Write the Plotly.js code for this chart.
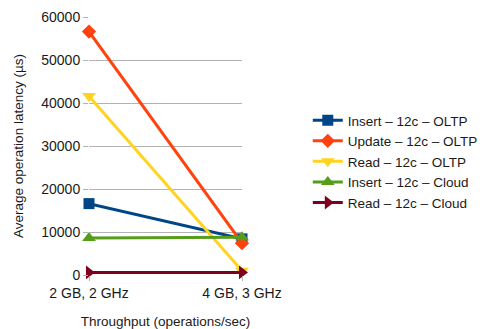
<!DOCTYPE html>
<html>
<head>
<meta charset="utf-8">
<script src="https://cdn.plot.ly/plotly-3.0.1.min.js"></script>
<style>html,body{margin:0;padding:0;background:#fff}#chart{width:487px;height:329px}</style>
</head>
<body>
<div id="chart"></div>
<script>
// Configurations on the x axis
const configs = ["2 GB, 2 GHz", "4 GB, 3 GHz"];

// Average latency per series (µs)
const insertOltp = [16600, 8400];
const updateOltp = [56600, 7400];
const readOltp = [41600, 1000];
const insertCloud = [8600, 8800];
const readCloud = [600, 600];

const seriesNames = [
  "Insert – 12c – OLTP",
  "Update – 12c – OLTP",
  "Read – 12c – OLTP",
  "Insert – 12c – Cloud",
  "Read – 12c – Cloud"
];
const seriesValues = [insertOltp, updateOltp, readOltp, insertCloud, readCloud];
const colors = ["#004586", "#ff420e", "#ffd320", "#579d1c", "#7e0021"];
const symbols = ["square", "diamond", "triangle-down", "triangle-up", "triangle-right"];
const sizes = [11, 11, 12, 12, 12];

const traces = seriesValues.map((vals, i) => ({
  type: "scatter",
  mode: "lines+markers",
  name: seriesNames[i],
  x: configs,
  y: vals,
  cliponaxis: false,
  line: {color: colors[i], width: 3},
  marker: {color: colors[i], symbol: symbols[i], size: sizes[i]}
}));

const layout = {
  width: 487,
  height: 329,
  margin: {l: 89, r: 245, t: 17, b: 54, autoexpand: false},
  paper_bgcolor: "#ffffff",
  plot_bgcolor: "#ffffff",
  font: {family: "Liberation Sans, Arial, sans-serif", size: 14, color: "#1a1a1a"},
  showlegend: true,
  legend: {
    x: 1.43, xanchor: "left",
    y: 0.44, yanchor: "middle",
    font: {size: 13.5, color: "#1a1a1a"},
    tracegroupgap: 0,
    itemwidth: 30,
    bgcolor: "rgba(0,0,0,0)"
  },
  xaxis: {
    type: "category",
    range: [0, 1],
    showgrid: true,
    gridcolor: "#b3b3b3",
    showline: false,
    zeroline: false,
    ticks: "outside",
    ticklen: 5,
    tickcolor: "#b3b3b3",
    tickfont: {size: 14, color: "#1a1a1a"},
    title: {text: "Throughput (operations/sec)", font: {size: 13.5, color: "#1a1a1a"}, standoff: 18},
    fixedrange: true
  },
  yaxis: {
    range: [0, 60000],
    dtick: 10000,
    showgrid: true,
    gridcolor: "#b3b3b3",
    zeroline: false,
    showline: false,
    ticks: "outside",
    ticklen: 5,
    tickcolor: "#b3b3b3",
    tickformat: "d",
    tickfont: {size: 14, color: "#1a1a1a"},
    title: {text: "Average operation latency (µs)", font: {size: 13.5, color: "#1a1a1a"}, standoff: 14},
    fixedrange: true
  }
};

Plotly.newPlot("chart", traces, layout, {displayModeBar: false, staticPlot: true});
</script>
</body>
</html>
